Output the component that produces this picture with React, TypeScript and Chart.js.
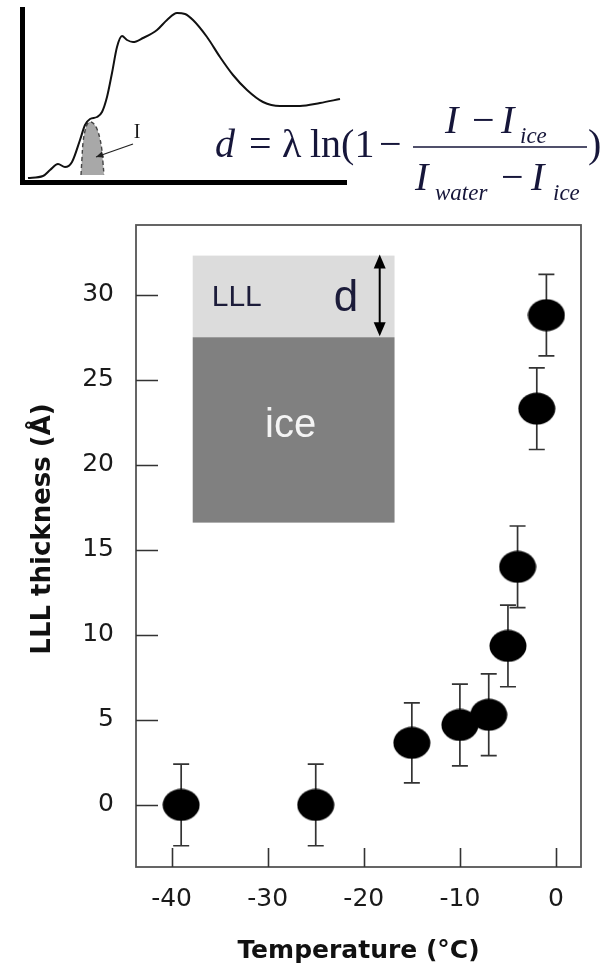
import React, { useEffect, useRef } from "react";
import { Chart, registerables } from "chart.js";

Chart.register(...registerables);

// ---- main chart data ----
const temperatures = [-39, -25, -15, -10, -7, -5, -4, -2, -1];
const thickness = [0, 0, 3.65, 4.7, 5.3, 9.35, 14.0, 23.3, 28.8];
const errors = [2.4, 2.4, 2.35, 2.4, 2.4, 2.4, 2.4, 2.4, 2.4];
const xTicks = [-40, -30, -20, -10, 0];
const yTicks = [0, 5, 10, 15, 20, 25, 30];
const xRange = [-43.7, 2.6];
const yRange = [-3.65, 34.1];

// ---- inset spectrum data ----
const spectrumX = [6, 21, 28, 36, 43, 50, 58, 63, 68, 75, 80, 85, 90, 95, 100, 105, 111, 121, 135, 145, 155, 163, 171, 185, 198, 211, 225, 241, 258, 278, 298, 318];
const spectrumY = [5, 7, 13, 19, 16, 21, 43, 58, 64, 66, 71, 86, 110, 136, 147, 143, 141, 145, 153, 163, 170, 169, 163, 146, 126, 108, 93, 81, 77, 77, 80, 84];
const peakX = [59, 60, 61, 63, 66, 69, 72, 75, 78, 80, 81, 82];
const peakY = [8, 25, 40, 52, 60, 61, 59, 54, 44, 32, 20, 8];

const SANS = '"DejaVu Sans", sans-serif';
const ARIAL = '"Liberation Sans", Arial, sans-serif';
const SERIF = '"Liberation Serif", "Times New Roman", serif';

function makeMarker(): HTMLCanvasElement {
  const c = document.createElement("canvas");
  c.width = 38;
  c.height = 33;
  const g = c.getContext("2d")!;
  g.fillStyle = "#000";
  g.beginPath();
  g.ellipse(19, 16.5, 18.5, 16, 0, 0, Math.PI * 2);
  g.fill();
  return c;
}

const framePlugin = {
  id: "frameTicks",
  beforeDatasetsDraw(chart: any) {
    const { ctx, chartArea: a, scales } = chart;
    const x = scales.x;
    const y = scales.y;
    ctx.save();
    // schematic of LLL on ice
    const L = x.getPixelForValue(-37.8);
    const R = x.getPixelForValue(-16.8);
    const T = y.getPixelForValue(32.3);
    const M = y.getPixelForValue(27.5);
    const B = y.getPixelForValue(16.6);
    ctx.fillStyle = "#dcdcdc";
    ctx.fillRect(L, T, R - L, M - T);
    ctx.fillStyle = "#808080";
    ctx.fillRect(L, M, R - L, B - M);
    ctx.fillStyle = "#1c1c3a";
    ctx.textAlign = "left";
    ctx.textBaseline = "alphabetic";
    ctx.font = `30px ${ARIAL}`;
    ctx.fillText("LLL", L + 19, T + 50);
    ctx.font = `44px ${ARIAL}`;
    ctx.fillText("d", L + 141, T + 55);
    ctx.fillStyle = "#f4f4f4";
    ctx.textAlign = "center";
    ctx.font = `40px ${ARIAL}`;
    ctx.fillText("ice", (L + R) / 2 - 3, M + 100);
    // double arrow
    const ax = L + 187;
    ctx.strokeStyle = "#000";
    ctx.fillStyle = "#000";
    ctx.lineWidth = 2;
    ctx.beginPath();
    ctx.moveTo(ax, T + 8);
    ctx.lineTo(ax, M - 8);
    ctx.stroke();
    ctx.beginPath();
    ctx.moveTo(ax, T - 1);
    ctx.lineTo(ax - 6, T + 13);
    ctx.lineTo(ax + 6, T + 13);
    ctx.closePath();
    ctx.fill();
    ctx.beginPath();
    ctx.moveTo(ax, M - 1);
    ctx.lineTo(ax - 6, M - 15);
    ctx.lineTo(ax + 6, M - 15);
    ctx.closePath();
    ctx.fill();

    // frame
    ctx.strokeStyle = "#555";
    ctx.lineWidth = 1.8;
    ctx.strokeRect(a.left, a.top, a.right - a.left, a.bottom - a.top);
    // inward ticks
    ctx.strokeStyle = "#333";
    ctx.lineWidth = 1.6;
    ctx.beginPath();
    yTicks.forEach((v) => {
      const py = Math.round(y.getPixelForValue(v)) + 0.5;
      ctx.moveTo(a.left, py);
      ctx.lineTo(a.left + 22, py);
    });
    xTicks.forEach((v) => {
      const px = Math.round(x.getPixelForValue(v)) + 0.5;
      ctx.moveTo(px, a.bottom);
      ctx.lineTo(px, a.bottom - 19);
    });
    ctx.stroke();

    // error bars
    ctx.strokeStyle = "#333";
    ctx.lineWidth = 1.7;
    ctx.beginPath();
    temperatures.forEach((t, i) => {
      const px = x.getPixelForValue(t);
      const top = y.getPixelForValue(thickness[i] + errors[i]);
      const bot = y.getPixelForValue(thickness[i] - errors[i]);
      ctx.moveTo(px, top);
      ctx.lineTo(px, bot);
      ctx.moveTo(px - 8, top);
      ctx.lineTo(px + 8, top);
      ctx.moveTo(px - 8, bot);
      ctx.lineTo(px + 8, bot);
    });
    ctx.stroke();
    ctx.restore();
  },
  afterDraw(chart: any) {
    const { ctx, chartArea: a } = chart;
    ctx.save();
    ctx.translate(50, a.top + 304);
    ctx.rotate(-Math.PI / 2);
    ctx.textAlign = "center";
    ctx.textBaseline = "alphabetic";
    ctx.fillStyle = "#111";
    ctx.font = `bold 26px ${SANS}`;
    ctx.fillText("LLL thickness (\u00C5)", 0, 0);
    ctx.restore();
  },
};

const insetPlugin = {
  id: "insetDecor",
  afterDraw(chart: any) {
    const { ctx, scales } = chart;
    const x = scales.x;
    const y = scales.y;
    ctx.save();
    // thick axes
    ctx.fillStyle = "#000";
    ctx.fillRect(20, 7, 5, 178);
    ctx.fillRect(20, 180, 327, 5);
    // arrow to peak
    const x1 = x.getPixelForValue(111);
    const y1 = y.getPixelForValue(39);
    const x2 = x.getPixelForValue(74);
    const y2 = y.getPixelForValue(26);
    ctx.strokeStyle = "#222";
    ctx.lineWidth = 1.3;
    ctx.beginPath();
    ctx.moveTo(x1, y1);
    ctx.lineTo(x2, y2);
    ctx.stroke();
    const ang = Math.atan2(y2 - y1, x2 - x1);
    ctx.fillStyle = "#222";
    ctx.beginPath();
    ctx.moveTo(x2, y2);
    ctx.lineTo(x2 - 8 * Math.cos(ang - 0.4), y2 - 8 * Math.sin(ang - 0.4));
    ctx.lineTo(x2 - 8 * Math.cos(ang + 0.4), y2 - 8 * Math.sin(ang + 0.4));
    ctx.closePath();
    ctx.fill();
    ctx.fillStyle = "#1a1a1a";
    ctx.textAlign = "center";
    ctx.textBaseline = "alphabetic";
    ctx.font = `20px ${SERIF}`;
    ctx.fillText("I", x.getPixelForValue(115), y.getPixelForValue(45));

    // formula
    ctx.fillStyle = "#16163a";
    ctx.textAlign = "left";
    const big = 40;
    const sub = 23;
    const put = (t: string, px: number, py: number, size: number, italic: boolean) => {
      ctx.font = `${italic ? "italic " : ""}${size}px ${SERIF}`;
      ctx.fillText(t, px, py);
    };
    put("d", 215, 157, big, true);
    put("=", 249, 157, big, false);
    put("\u03BB", 282, 157, big, false);
    put("ln(1", 310, 157, big, false);
    put("\u2212", 379, 157, big, false);
    put(")", 588, 157, big, false);
    put("I", 445, 133, big, true);
    put("\u2212", 472, 133, big, false);
    put("I", 501, 133, big, true);
    put("ice", 520, 143, sub, true);
    put("I", 415, 190, big, true);
    put("water", 435, 200, sub, true);
    put("\u2212", 501, 190, big, false);
    put("I", 531, 190, big, true);
    put("ice", 553, 200, sub, true);
    ctx.strokeStyle = "#16163a";
    ctx.lineWidth = 1.6;
    ctx.beginPath();
    ctx.moveTo(413, 147);
    ctx.lineTo(587, 147);
    ctx.stroke();
    ctx.restore();
  },
};

export default function App() {
  const mainRef = useRef<HTMLCanvasElement>(null);
  const insetRef = useRef<HTMLCanvasElement>(null);

  useEffect(() => {
    const marker = makeMarker();
    const main = new Chart(mainRef.current!, {
      type: "scatter",
      data: {
        datasets: [
          {
            data: temperatures.map((t, i) => ({ x: t, y: thickness[i] })),
            pointStyle: marker as any,
            pointRadius: 18,
            backgroundColor: "#000",
            borderColor: "#000",
            showLine: false,
          },
        ],
      },
      options: {
        animation: false,
        responsive: false,
        events: [],
        layout: { padding: { left: 0, top: 225, right: 17, bottom: 0 } },
        plugins: { legend: { display: false }, tooltip: { enabled: false } },
        scales: {
          x: {
            type: "linear",
            min: xRange[0],
            max: xRange[1],
            afterBuildTicks: (s: any) => {
              s.ticks = xTicks.map((v) => ({ value: v }));
            },
            afterFit: (s: any) => {
              s.height = 104;
            },
            grid: { display: false, drawTicks: false },
            border: { display: false },
            ticks: {
              padding: 17,
              maxRotation: 0,
              font: { family: SANS, size: 25 },
              color: "#1a1a1a",
            },
            title: {
              display: true,
              text: "Temperature (\u00B0C)",
              font: { family: SANS, size: 25, weight: "bold" },
              color: "#111",
              padding: { top: 0, bottom: 4.5 },
            },
          },
          y: {
            type: "linear",
            min: yRange[0],
            max: yRange[1],
            afterBuildTicks: (s: any) => {
              s.ticks = yTicks.map((v) => ({ value: v }));
            },
            afterFit: (s: any) => {
              s.width = 136;
            },
            grid: { display: false, drawTicks: false },
            border: { display: false },
            ticks: {
              padding: 22,
              font: { family: SANS, size: 25 },
              color: "#1a1a1a",
            },
          },
        },
      },
      plugins: [framePlugin],
    });

    const inset = new Chart(insetRef.current!, {
      type: "line",
      data: {
        datasets: [
          {
            data: spectrumX.map((v, i) => ({ x: v, y: spectrumY[i] })),
            borderColor: "#111",
            borderWidth: 2,
            pointRadius: 0,
            tension: 0.4,
            cubicInterpolationMode: "monotone",
            fill: false,
          },
          {
            data: peakX.map((v, i) => ({ x: v, y: peakY[i] })),
            borderColor: "#444",
            borderWidth: 1.4,
            borderDash: [4, 3],
            backgroundColor: "#a8a8a8",
            pointRadius: 0,
            tension: 0.4,
            fill: { value: 8 },
          },
        ],
      },
      options: {
        animation: false,
        responsive: false,
        events: [],
        layout: { padding: { left: 22, top: 5, right: 253, bottom: 32 } },
        plugins: { legend: { display: false }, tooltip: { enabled: false } },
        scales: {
          x: { type: "linear", display: false, min: 0, max: 325 },
          y: { type: "linear", display: false, min: 0, max: 178 },
        },
      },
      plugins: [insetPlugin],
    });

    return () => {
      main.destroy();
      inset.destroy();
    };
  }, []);

  return (
    <div style={{ position: "absolute", left: 0, top: 0, width: 600, height: 971, background: "#fff" }}>
      <canvas ref={mainRef} width={600} height={971} style={{ position: "absolute", left: 0, top: 0 }} />
      <canvas ref={insetRef} width={600} height={215} style={{ position: "absolute", left: 0, top: 0 }} />
    </div>
  );
}
